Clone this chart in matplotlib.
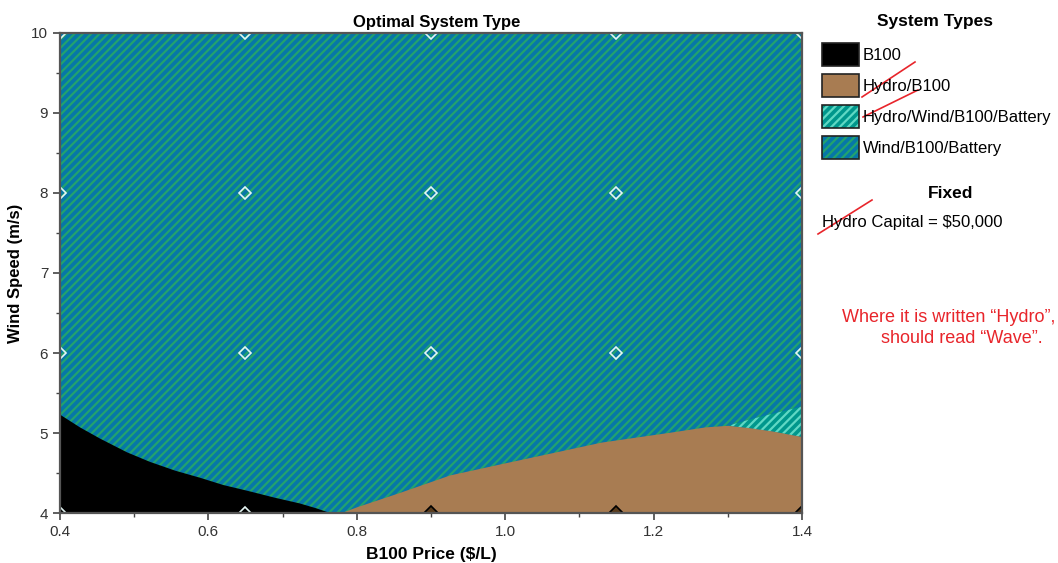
import matplotlib
matplotlib.use("Agg")
import matplotlib.pyplot as plt
from matplotlib.patches import Patch
from matplotlib.legend_handler import HandlerTuple
from matplotlib.lines import Line2D

plt.rcParams["font.family"] = ["Liberation Sans", "DejaVu Sans"]
plt.rcParams["hatch.linewidth"] = 1.6

# axis ranges
PRICE_LIM = (0.4, 1.4)
WIND_LIM = (4.0, 10.0)

# boundary of the B100-only region (lower left)
b100_price = [0.40, 0.427, 0.454, 0.49, 0.521, 0.555, 0.589, 0.62, 0.656, 0.69, 0.723, 0.745, 0.764]
b100_wind = [5.23, 5.07, 4.93, 4.76, 4.64, 4.53, 4.44, 4.35, 4.27, 4.19, 4.12, 4.06, 4.00]

# top boundary of the Hydro/B100 region (lower right)
hydro_b100_price = [0.78, 0.80, 0.858, 0.926, 1.00, 1.13, 1.22, 1.27, 1.30, 1.33, 1.36, 1.40]
hydro_b100_wind = [4.00, 4.07, 4.25, 4.47, 4.62, 4.88, 5.00, 5.07, 5.09, 5.06, 5.02, 4.95]

# Hydro/Wind/B100/Battery sliver above it
hwbb_price = [1.30, 1.33, 1.36, 1.40]
hwbb_lower = [5.09, 5.06, 5.02, 4.95]
hwbb_upper = [5.09, 5.17, 5.24, 5.33]

# sampled design points
grid_price = [0.4, 0.65, 0.9, 1.15, 1.4]
grid_wind = [4, 6, 8, 10]
hydro_pts_price = [0.9, 1.15, 1.4]
hydro_pts_wind = [4, 4, 4]

labels = ["B100", "Hydro/B100", "Hydro/Wind/B100/Battery", "Wind/B100/Battery"]
face = ["#000000", "#a87c52", "#00978c", "#0677a8"]
hatch_col = [None, None, "#5fd8c4", "#22a26e"]

fig = plt.figure(figsize=(10.58, 5.63), dpi=100)
ax = fig.add_axes([0.0567, 0.0888, 0.7013, 0.8526])

# background region: Wind/B100/Battery
ax.fill_between(PRICE_LIM, WIND_LIM[0], WIND_LIM[1], facecolor=face[3],
                edgecolor=hatch_col[3], hatch="////", linewidth=0, zorder=1)
ax.fill_between(hwbb_price, hwbb_lower, hwbb_upper, facecolor=face[2],
                edgecolor=hatch_col[2], hatch="////", linewidth=0, zorder=2)
ax.fill_between(hydro_b100_price, WIND_LIM[0], hydro_b100_wind,
                facecolor=face[1], linewidth=0, zorder=3)
ax.fill_between(b100_price, WIND_LIM[0], b100_wind,
                facecolor=face[0], linewidth=0, zorder=3)

# design point markers
wp, ww = [], []
for p in grid_price:
    for w in grid_wind:
        if not any(p == hp and w == hw for hp, hw in zip(hydro_pts_price, hydro_pts_wind)):
            wp.append(p)
            ww.append(w)
ax.plot(wp, ww, "D", ms=6, mfc="none", mec="#e4f6f4", mew=1.2, zorder=5)
ax.plot(hydro_pts_price, hydro_pts_wind, "D", ms=7, mfc="#5a3c1c", mec="#000000",
        mew=1.2, zorder=5)

ax.set_xlim(*PRICE_LIM)
ax.set_ylim(*WIND_LIM)
ax.set_xticks([0.4, 0.6, 0.8, 1.0, 1.2, 1.4])
ax.set_xticks([0.5, 0.7, 0.9, 1.1, 1.3], minor=True)
ax.set_yticks([4, 5, 6, 7, 8, 9, 10])
ax.set_yticks([4.5, 5.5, 6.5, 7.5, 8.5, 9.5], minor=True)
ax.tick_params(which="major", direction="out", length=5, width=1.2, color="#444444",
               labelsize=11, labelcolor="#333333")
ax.tick_params(which="minor", direction="out", length=3, width=1.0, color="#444444")
for s in ax.spines.values():
    s.set_color("#555555")
    s.set_linewidth(1.6)
    s.set_zorder(6)

ax.set_title("Optimal System Type", fontsize=12, fontweight="bold", pad=4, x=0.508)
ax.set_xlabel("B100 Price ($/L)", fontsize=12.5, fontweight="bold", labelpad=6)
ax.set_ylabel("Wind Speed (m/s)", fontsize=12, fontweight="bold", labelpad=6)

# legend
handles = []
for f, h in zip(face, hatch_col):
    if h is None:
        handles.append(Patch(facecolor=f, edgecolor="#222222", linewidth=1.2))
    else:
        handles.append((Patch(facecolor=f, edgecolor=h, hatch="////", linewidth=0),
                        Patch(facecolor="none", edgecolor="#222222", linewidth=1.2)))
fig.text(0.884, 0.962, "System Types", fontsize=12.5, fontweight="bold",
         ha="center", va="center")
leg = fig.legend(handles, labels, loc="upper left", bbox_to_anchor=(0.777, 0.923),
                 frameon=False, fontsize=12, handlelength=2.2, handleheight=1.74,
                 handletextpad=0.24, labelspacing=0.48, borderaxespad=0, borderpad=0,
                 handler_map={tuple: HandlerTuple(ndivide=1, pad=0)})

fig.text(0.898, 0.657, "Fixed", fontsize=12.5, fontweight="bold", ha="center", va="center")
fig.text(0.777, 0.604, "Hydro Capital = $50,000", fontsize=12, ha="left", va="center")

red = "#e8252b"
fig.text(0.897, 0.418, "Where it is written \u201cHydro\u201d,\n     should read \u201cWave\u201d.",
         fontsize=13, color=red, ha="center", va="center", linespacing=1.3)

# hand-drawn strike marks over "Hydro"
W, H = 1058.0, 563.0
for (x0, y0), (x1, y1) in [((862, 97), (915, 62)), ((863, 117), (918, 90)),
                           ((818, 234), (872, 200))]:
    fig.add_artist(Line2D([x0 / W, x1 / W], [1 - y0 / H, 1 - y1 / H],
                          color=red, linewidth=1.2, transform=fig.transFigure))

fig.savefig("out.png", dpi=100)
